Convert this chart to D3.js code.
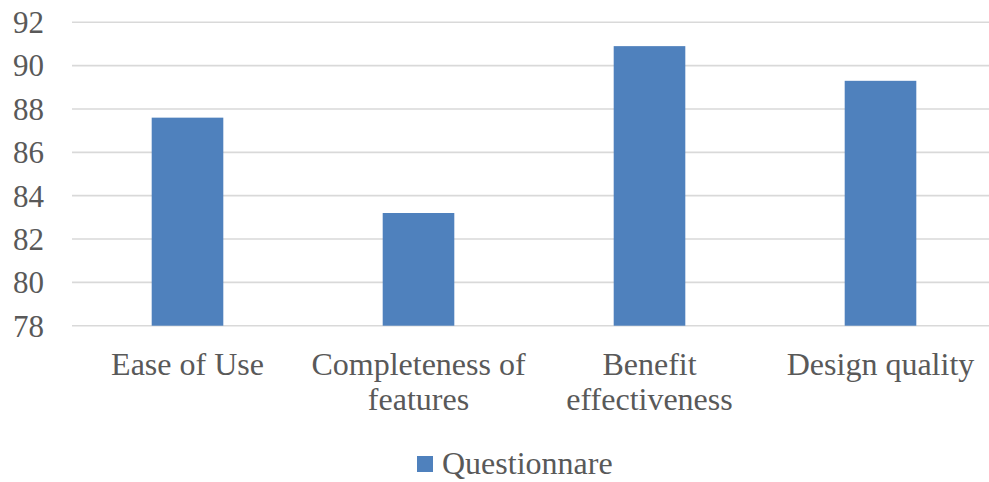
<script src="https://cdn.jsdelivr.net/npm/d3@7"></script>
<style>
  body { margin: 0; background: #fff; }
  text { font-family: "Liberation Serif", "Times New Roman", serif; fill: #595959; }
</style>
<svg id="vis"></svg>
<script>
  // chart data
  var categories = ["Ease of Use", "Completeness of features", "Benefit effectiveness", "Design quality"];
  var categoryLines = [["Ease of Use"], ["Completeness of", "features"], ["Benefit", "effectiveness"], ["Design quality"]];
  var values = [87.6, 83.2, 90.9, 89.3];
  var yTicks = [78, 80, 82, 84, 86, 88, 90, 92];
  var seriesName = "Questionnare";

  var W = 989, H = 482;
  var plotLeft = 72, plotRight = 996, plotTop = 22.3, plotBottom = 325.7;

  var svg = d3.select("#vis").attr("width", W).attr("height", H);

  var x = d3.scaleBand()
      .domain(categories)
      .range([plotLeft, plotRight])
      .paddingInner(0.69)
      .paddingOuter(0.345);

  var y = d3.scaleLinear()
      .domain([78, 92])
      .range([plotBottom, plotTop]);

  // gridlines
  svg.append("g")
      .selectAll("line")
      .data(yTicks)
      .enter().append("line")
      .attr("x1", plotLeft)
      .attr("x2", W)
      .attr("y1", function(d) { return y(d); })
      .attr("y2", function(d) { return y(d); })
      .attr("stroke", "#d9d9d9")
      .attr("stroke-width", 1.6);

  // y tick labels
  svg.append("g")
      .selectAll("text")
      .data(yTicks)
      .enter().append("text")
      .attr("x", 44)
      .attr("y", function(d) { return y(d); })
      .attr("dy", "0.35em")
      .attr("text-anchor", "end")
      .attr("font-size", 31)
      .text(function(d) { return d; });

  // bars
  svg.append("g")
      .selectAll("rect")
      .data(values)
      .enter().append("rect")
      .attr("x", function(d, i) { return x(categories[i]); })
      .attr("y", function(d) { return y(d); })
      .attr("width", x.bandwidth())
      .attr("height", function(d) { return y(78) - y(d); })
      .attr("fill", "#4f81bd");

  // category labels
  var labels = svg.append("g")
      .selectAll("text")
      .data(categories)
      .enter().append("text")
      .attr("text-anchor", "middle")
      .attr("font-size", 32)
      .attr("x", function(d) { return x(d) + x.bandwidth() / 2; })
      .attr("y", 375);

  labels.selectAll("tspan")
      .data(function(d, i) { return categoryLines[i]; })
      .enter().append("tspan")
      .attr("x", function() { return this.parentNode.getAttribute("x"); })
      .attr("dy", function(d, i) { return i === 0 ? 0 : 35; })
      .text(function(d) { return d; });

  // legend
  svg.append("rect")
      .attr("x", 417).attr("y", 456)
      .attr("width", 16).attr("height", 16)
      .attr("fill", "#4f81bd");
  svg.append("text")
      .attr("x", 442).attr("y", 474)
      .attr("font-size", 32)
      .text(seriesName);
</script>
